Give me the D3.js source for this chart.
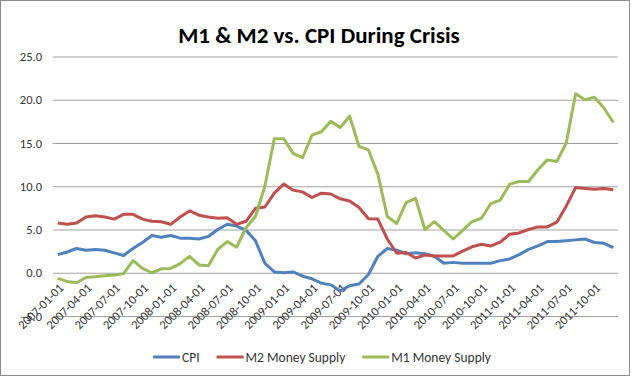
<!DOCTYPE html>
<html>
<head>
<meta charset="utf-8">
<script src="https://cdn.jsdelivr.net/npm/d3@7"></script>
<style>
  body { margin: 0; background: #fff; }
  text { font-family: Calibri, Carlito, Lato, sans-serif; }
</style>
</head>
<body>
<div id="chart"></div>
<script>
// monthly categories
const months = [
  "2007-01-01","2007-02-01","2007-03-01","2007-04-01","2007-05-01","2007-06-01","2007-07-01","2007-08-01","2007-09-01","2007-10-01","2007-11-01","2007-12-01",
  "2008-01-01","2008-02-01","2008-03-01","2008-04-01","2008-05-01","2008-06-01","2008-07-01","2008-08-01","2008-09-01","2008-10-01","2008-11-01","2008-12-01",
  "2009-01-01","2009-02-01","2009-03-01","2009-04-01","2009-05-01","2009-06-01","2009-07-01","2009-08-01","2009-09-01","2009-10-01","2009-11-01","2009-12-01",
  "2010-01-01","2010-02-01","2010-03-01","2010-04-01","2010-05-01","2010-06-01","2010-07-01","2010-08-01","2010-09-01","2010-10-01","2010-11-01","2010-12-01",
  "2011-01-01","2011-02-01","2011-03-01","2011-04-01","2011-05-01","2011-06-01","2011-07-01","2011-08-01","2011-09-01","2011-10-01","2011-11-01","2011-12-01"
];

// year-over-year % change
const cpi = [
  2.1, 2.4, 2.8, 2.6, 2.7, 2.6, 2.3, 2.0, 2.8, 3.5, 4.3, 4.1,
  4.3, 4.0, 4.0, 3.9, 4.2, 5.0, 5.6, 5.4, 4.9, 3.7, 1.1, 0.1,
  0.0, 0.1, -0.4, -0.7, -1.2, -1.4, -2.1, -1.5, -1.3, -0.2, 1.9, 2.8,
  2.6, 2.2, 2.3, 2.2, 1.9, 1.1, 1.2, 1.1, 1.1, 1.1, 1.1, 1.4,
  1.6, 2.1, 2.7, 3.1, 3.6, 3.6, 3.7, 3.8, 3.9, 3.5, 3.4, 2.9
];
const m2 = [
  5.75, 5.6, 5.75, 6.45, 6.6, 6.45, 6.2, 6.75, 6.75, 6.2, 5.95, 5.9,
  5.6, 6.45, 7.15, 6.65, 6.45, 6.3, 6.35, 5.6, 5.95, 7.45, 7.6, 9.2,
  10.25, 9.55, 9.35, 8.7, 9.2, 9.1, 8.55, 8.3, 7.55, 6.25, 6.2, 3.9,
  2.25, 2.35, 1.7, 2.05, 1.95, 1.95, 1.95, 2.5, 3.0, 3.3, 3.1, 3.55,
  4.45, 4.6, 5.0, 5.3, 5.3, 5.85, 7.7, 9.85, 9.75, 9.65, 9.75, 9.6
];
const m1 = [
  -0.65, -1.0, -1.15, -0.55, -0.45, -0.35, -0.25, -0.1, 1.4, 0.5, 0.0, 0.45,
  0.5, 1.05, 1.9, 0.9, 0.8, 2.7, 3.6, 2.95, 5.2, 6.5, 10.0, 15.5,
  15.5, 13.8, 13.3, 15.9, 16.3, 17.5, 16.8, 18.1, 14.6, 14.2, 11.4, 6.5,
  5.7, 8.1, 8.6, 5.0, 5.9, 4.9, 3.9, 4.9, 5.9, 6.3, 8.0, 8.4,
  10.25, 10.55, 10.55, 11.9, 13.05, 12.85, 15.0, 20.7, 20.0, 20.3, 19.05, 17.4
];

const seriesNames = ["CPI", "M2 Money Supply", "M1 Money Supply"];
const seriesColors = ["#4F81BD", "#C0504D", "#9BBB59"];
const yTicks = [-5, 0, 5, 10, 15, 20, 25];
const xTickLabels = months.filter((d, i) => i % 3 === 0);

const series = [cpi, m2, m1].map((values, k) => ({
  name: seriesNames[k], color: seriesColors[k], values: values
}));

const width = 640, height = 377;
const plot = {left: 53, right: 618, top: 56.5, bottom: 316};

const svg = d3.select("#chart")
  .append("svg")
    .attr("width", width)
    .attr("height", height);

// chart frame
svg.append("rect")
  .attr("x", 0.5).attr("y", 0.5)
  .attr("width", 629).attr("height", 375)
  .attr("fill", "#fff")
  .attr("stroke", "#8c8c8c");

const x = d3.scalePoint()
  .domain(months)
  .range([plot.left, plot.right])
  .padding(0.5);

const y = d3.scaleLinear()
  .domain([-5, 25])
  .range([plot.bottom, plot.top]);

// title
svg.append("text")
  .attr("x", 319)
  .attr("y", 43)
  .attr("text-anchor", "middle")
  .style("font-size", "23px")
  .style("font-weight", "bold")
  .attr("fill", "#000")
  .text("M1 & M2 vs. CPI During Crisis");

// y axis with gridlines
const yAxis = svg.append("g")
  .attr("transform", `translate(${plot.left},0)`)
  .call(d3.axisLeft(y)
    .tickValues(yTicks)
    .tickFormat(d3.format(".1f"))
    .tickSize(-(plot.right - plot.left))
    .tickPadding(11));
yAxis.select(".domain").remove();
yAxis.selectAll(".tick line").attr("stroke", "#a0a0a0");
yAxis.selectAll(".tick text")
  .attr("fill", "#333")
  .style("font-size", "12.5px");

// x axis labels sit on the zero line
const xAxis = svg.append("g")
  .attr("transform", `translate(0,${y(0)})`)
  .call(d3.axisBottom(x).tickValues(xTickLabels).tickSize(0));
xAxis.select(".domain").remove();
xAxis.selectAll(".tick text")
  .attr("y", 0)
  .attr("dy", "0.35em")
  .attr("text-anchor", "end")
  .attr("transform", "translate(3,13) rotate(-45)")
  .attr("fill", "#333")
  .style("font-size", "12.5px");

// lines
const line = d3.line()
  .x((d, i) => x(months[i]))
  .y(d => y(d));

svg.selectAll(".series")
  .data(series)
  .join("path")
    .attr("class", "series")
    .attr("fill", "none")
    .attr("stroke", d => d.color)
    .attr("stroke-width", 3)
    .attr("stroke-linejoin", "round")
    .attr("d", d => line(d.values));

// legend
const legend = svg.append("g").attr("transform", "translate(0,357)");
let lx = 153;
series.forEach(s => {
  legend.append("line")
    .attr("x1", lx).attr("x2", lx + 27)
    .attr("y1", 0).attr("y2", 0)
    .attr("stroke", s.color)
    .attr("stroke-width", 3);
  const t = legend.append("text")
    .attr("x", lx + 29)
    .attr("dy", "0.35em")
    .attr("fill", "#333")
    .style("font-size", "13.5px")
    .text(s.name);
  lx += 29 + t.node().getComputedTextLength() + 17;
});
</script>
</body>
</html>
